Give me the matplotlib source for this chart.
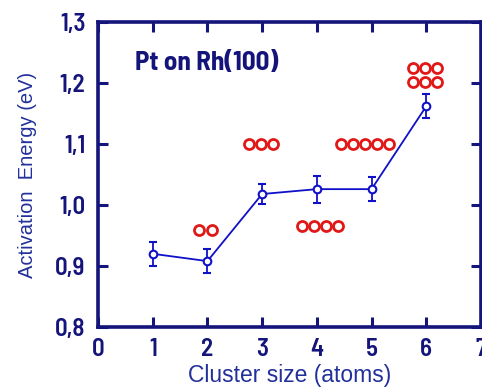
import matplotlib
matplotlib.use("Agg")
import matplotlib.pyplot as plt
from matplotlib.ticker import FuncFormatter, FixedLocator

# Data
cluster_size = [1, 2, 3, 4, 5, 6]
energy = [0.920, 0.908, 1.018, 1.026, 1.026, 1.162]
energy_err = [0.020, 0.020, 0.017, 0.022, 0.020, 0.020]

# Red cluster pictograms: centre x, row y values, number of atoms per row
group_x = [1.965, 2.98, 4.06, 4.88, 5.98]
group_rows_y = [[0.959], [1.100], [0.9656], [1.100], [1.2246, 1.2016]]
group_counts = [[2], [3], [4], [5], [3, 3]]

title_text = "Pt on Rh(100)"
xlabel = "Cluster size (atoms)"
ylabel = "Activation  Energy (eV)"

navy = "#14147a"
blue = "#1010c8"
red = "#e01818"
label_blue = "#22309a"
narrow = ["Barlow Semi Condensed", "Roboto Condensed", "DejaVu Sans"]
sans = ["Liberation Sans", "DejaVu Sans"]

fig = plt.figure(figsize=(4.82, 3.89), dpi=100)
ax = fig.add_axes([98/482, 1-327/389, (481-98)/482, (327-22)/389])

ax.errorbar(cluster_size, energy, yerr=energy_err, color=blue, lw=1.3,
            marker="o", ms=5.5, mfc="white", mec=blue, mew=1.5,
            capsize=3.2, elinewidth=1.3, capthick=1.3, zorder=3)

# Red circles
spacing = 12.2 / 54.7  # x-units between circle centres
for gx, rows, counts in zip(group_x, group_rows_y, group_counts):
    for ry, n in zip(rows, counts):
        xs = [gx + (i - (n - 1) / 2) * spacing for i in range(n)]
        ax.plot(xs, [ry] * n, ls="none", marker="o", ms=7.2, mfc="white",
                mec=red, mew=2.0, zorder=4)

ax.set_xlim(0, 7)
ax.set_ylim(0.8, 1.3)
ax.xaxis.set_major_locator(FixedLocator(range(0, 8)))
ax.yaxis.set_major_locator(FixedLocator([0.8, 0.9, 1.0, 1.1, 1.2, 1.3]))
ax.xaxis.set_major_formatter(FuncFormatter(lambda v, p: f"{int(round(v))}"))
ax.yaxis.set_major_formatter(FuncFormatter(lambda v, p: f"{v:.1f}".replace(".", ",")))

for s in ax.spines.values():
    s.set_color(navy)
    s.set_linewidth(2.6)

ax.tick_params(direction="in", length=7, width=2.2, color=navy,
               top=True, right=True, labelsize=18, labelcolor=navy)
ax.tick_params(axis="x", pad=8)
ax.tick_params(axis="y", pad=9)
for lab in ax.get_xticklabels() + ax.get_yticklabels():
    lab.set_family(narrow)
    lab.set_fontweight(600)

ax.set_xlabel(xlabel, fontsize=16.5, color=label_blue, family=sans, labelpad=2)
ax.set_ylabel(ylabel, fontsize=14.5, color=label_blue, family=sans, labelpad=13)

ax.text(0.68, 1.232, title_text, fontsize=19.5, fontweight="bold", color=navy,
        family=narrow, va="center", ha="left")

fig.savefig("out.png", dpi=100)
